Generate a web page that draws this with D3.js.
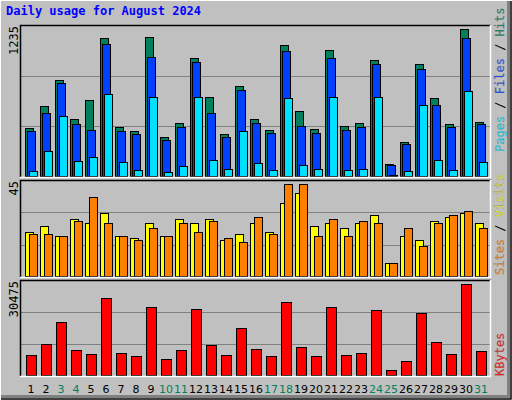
<!DOCTYPE html>
<html><head><meta charset="utf-8">
<script src="https://cdn.jsdelivr.net/npm/d3@7"></script>
<style>body{margin:0;background:#fff}svg{display:block}</style>
</head><body>
<svg id="chart" width="512" height="400"></svg>
<script>
// values, day 1..31
var days = d3.range(1, 32);
var weekend = [3, 4, 10, 11, 17, 18, 24, 25, 31];
var hits = [413,590,807,481,640,1160,422,388,1171,338,455,992,665,363,757,489,397,1101,556,405,1059,430,455,975,112,296,942,657,447,1235,464];
var files = [388,539,782,439,397,1109,388,363,1000,313,422,958,531,338,724,455,372,1051,430,372,992,397,414,942,103,279,900,606,422,1160,439];
var pages = [53,221,514,137,170,690,129,61,673,45,95,673,145,70,388,120,61,657,103,70,673,61,70,673,20,53,598,145,61,715,129];
var visits = [22,25,20,28,26,31,20,19,26,20,28,26,28,18,21,26,22,36,41,25,26,24,26,30,7,20,18,27,29,31,26];
var sites = [21,21,20,27,39,26,20,18,24,20,26,22,27,19,17,29,21,45,45,20,28,20,27,26,7,24,15,26,30,32,24];
var kbytes = [7118,10788,17795,8786,7452,25803,7785,6784,22800,5783,8786,22133,10455,7118,15793,9120,6784,24468,9787,6784,22800,7118,7785,21799,2113,5116,20798,11455,7452,30475,8453];

var svg = d3.select('#chart');
var font = 'DejaVu Sans Mono, monospace';

// background and bevel
svg.append('rect').attr('width', 512).attr('height', 400).attr('fill', '#c0c0c0');
svg.append('path').attr('d', 'M507,0V395H0V400H512V0Z').attr('fill', '#808080');
svg.append('path').attr('d', 'M0,400V0H512').attr('fill', 'none').attr('stroke', '#fff').attr('stroke-width', 2);
svg.append('path').attr('d', 'M1,399H511V1').attr('fill', 'none').attr('stroke', '#000').attr('stroke-width', 1);

svg.append('text').attr('x', 6).attr('y', 15).attr('fill', '#0000ff')
  .style('font', 'bold 12px ' + font).text('Daily usage for August 2024');

var x = d3.scaleLinear().domain([1, 31]).range([20, 470]);

// panels: top, baseline, max-bar y, max value
var panels = [
  {y0: 25, y1: 177, top: 29.3, max: 1235, label: '1235',
   series: [{d: hits, c: '#00805c', dx: 5, w: 8}, {d: files, c: '#0040ff', dx: 7, w: 8}, {d: pages, c: '#00e0ff', dx: 9, w: 8}],
   legend: [['Pages', '#00e0ff'], [' / ', '#000'], ['Files', '#0040ff'], [' / ', '#000'], ['Hits', '#00805c']], ly: 152},
  {y0: 180, y1: 277, top: 184.3, max: 45, label: '45',
   series: [{d: visits, c: '#ffff00', dx: 5, w: 8}, {d: sites, c: '#ff8000', dx: 9, w: 8}],
   legend: [['Sites', '#ff8000'], [' / ', '#000'], ['Visits', '#ffff00']], ly: 275},
  {y0: 280, y1: 376, top: 284.3, max: 30475, label: '30475',
   series: [{d: kbytes, c: '#ff0000', dx: 6, w: 10}],
   legend: [['KBytes', '#ff0000']], ly: 376}
];

panels.forEach(function(p) {
  var y = d3.scaleLinear().domain([0, p.max]).range([p.y1, p.top]);
  var g = svg.append('g');
  // grid lines at thirds
  [1, 2].forEach(function(k) {
    var gy = Math.round(p.y0 + (p.y1 - p.y0) * k / 3) + 0.5;
    g.append('line').attr('x1', 21).attr('x2', 490).attr('y1', gy).attr('y2', gy)
      .attr('stroke', '#808080').attr('stroke-width', 1);
  });
  p.series.forEach(function(s) {
    g.selectAll(null).data(days).enter().append('rect')
      .attr('x', function(d) { return x(d) + s.dx + 0.5; })
      .attr('y', function(d, i) { return Math.round(y(s.d[i])) + 0.5; })
      .attr('width', s.w)
      .attr('height', function(d, i) { return Math.max(0, p.y1 - 1 - Math.round(y(s.d[i]))); })
      .attr('fill', s.c).attr('stroke', '#000').attr('stroke-width', 1);
  });
  // frame: black top/left, white bottom/right
  g.append('path').attr('d', 'M20.5,' + p.y1 + 'V' + (p.y0 + 0.5) + 'H491')
    .attr('fill', 'none').attr('stroke', '#000').attr('stroke-width', 1.5);
  g.append('path').attr('d', 'M20,' + (p.y1 + 0.5) + 'H490.5V' + p.y0)
    .attr('fill', 'none').attr('stroke', '#fff').attr('stroke-width', 1.5);
  // max label
  svg.append('text').attr('transform', 'translate(18,' + (p.y0 + 1) + ') rotate(-90)')
    .attr('text-anchor', 'end').attr('fill', '#000')
    .style('font', '12px ' + font).text(p.label);
  // legend on the right
  var t = svg.append('text').attr('transform', 'translate(504,' + p.ly + ') rotate(-90)')
    .style('font', '12px ' + font);
  p.legend.forEach(function(l) {
    t.append('tspan').attr('fill', l[1]).attr('stroke', l[1] === '#000' ? 'none' : '#808080')
      .attr('stroke-width', 0.3).text(l[0]);
  });
});

// day labels
svg.selectAll('.day').data(days).enter().append('text')
  .attr('class', 'day')
  .attr('x', function(d) { return x(d) + 11; })
  .attr('y', 393).attr('text-anchor', 'middle')
  .attr('fill', function(d) { return weekend.indexOf(d) >= 0 ? '#00805c' : '#000'; })
  .style('font', '11px DejaVu Sans, sans-serif')
  .text(function(d) { return d; });
</script>
</body></html>
